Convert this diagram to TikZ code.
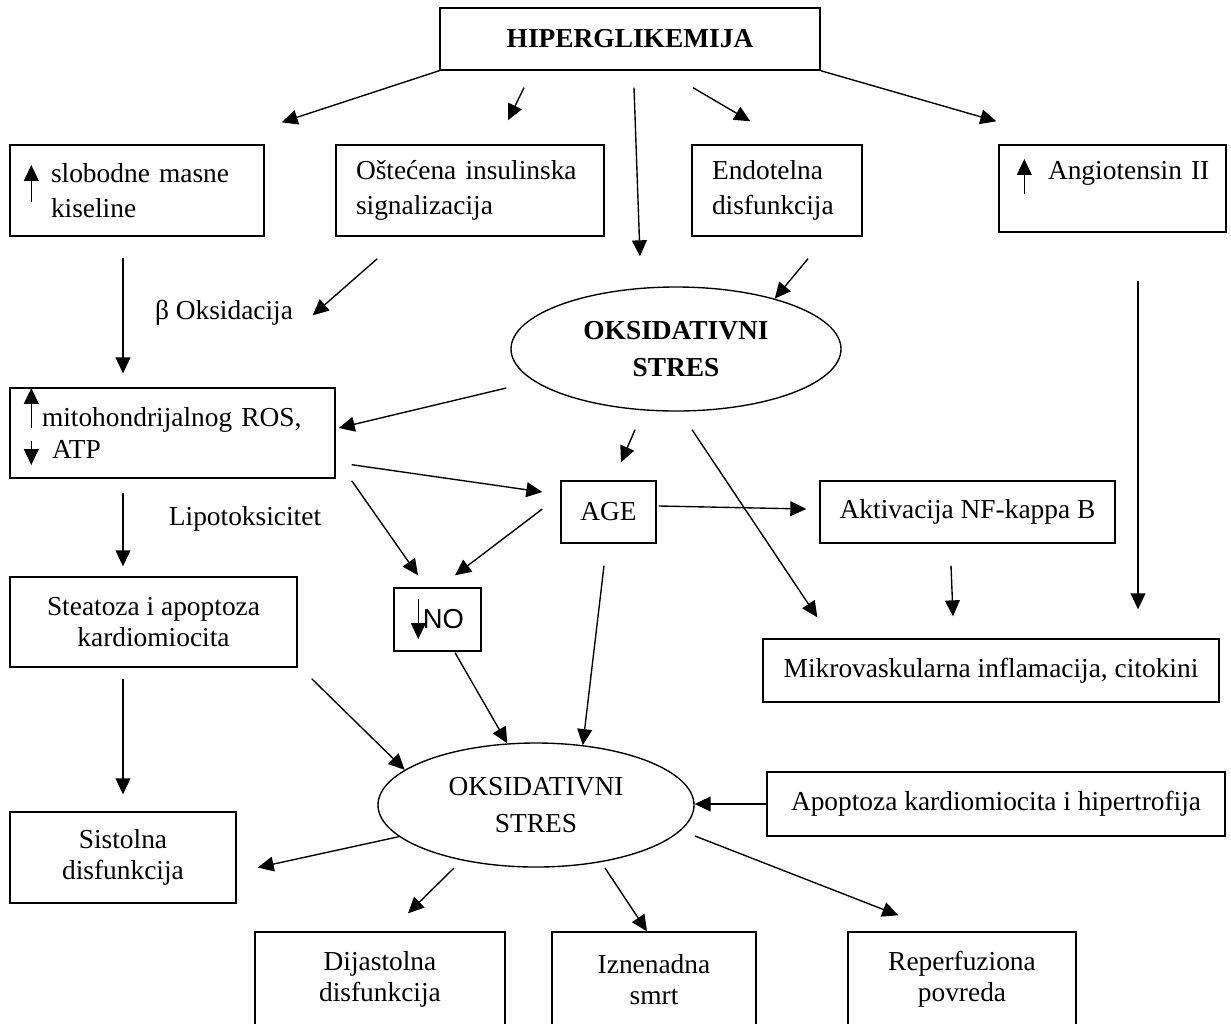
\documentclass[tikz,border=0pt]{standalone}
\usepackage{fontspec}
\setmainfont{Liberation Serif}
\newfontfamily\nofont{Liberation Sans}
\usetikzlibrary{arrows.meta,shapes.geometric}
\newlength{\pxu}
\setlength{\pxu}{0.0154cm}
\tikzset{
  >={Triangle[length=7pt,width=6.5pt]},
  arr/.style   = { draw, line width=0.6pt, -> },
  box/.style 2 args = {
    draw, rectangle, line width=0.6pt,
    minimum width=#1\pxu,
    minimum height=#2\pxu,
    inner sep=0pt,
    align=center},
  lbox/.style 2 args = { box={#1}{#2}, align=left },
  toprow/.style = { font=\fontsize{12}{15.5}\selectfont },
  oval/.style 2 args = {
    draw, ellipse, line width=0.6pt,
    minimum width=#1\pxu,
    minimum height=#2\pxu,
    inner sep=0pt, align=center,
    font=\fontsize{12}{16}\selectfont},
  note/.style  = { inner sep=0pt }
}

\begin{document}
\begin{tikzpicture}[x=0.0154cm, y=-0.0154cm,
  font=\fontsize{12}{13.8}\selectfont]
  \useasboundingbox (0,0) rectangle (1231,1023);
  \clip (0,0) rectangle (1231,1023);
  % top
  \node[box={380}{62}] (hiper) at (630,39) {\textbf{HIPERGLIKEMIJA}};
  \node[lbox={254}{91}, toprow, inner xsep=41\pxu, text width=172\pxu]
    (slob) at (137,190.5) {\mbox{slobodne masne}\\kiseline};
  \node[lbox={268}{91}, toprow, inner xsep=20\pxu, text width=228\pxu]
    (ostec) at (470,190.5) {\mbox{Oštećena insulinska}\\signalizacija};
  \node[lbox={170}{91}, toprow, inner xsep=20\pxu, text width=130\pxu]
    (endo) at (777,190.5) {Endotelna\\disfunkcija};
  \node[lbox={227}{87}, toprow, inner xsep=49\pxu, text width=129\pxu]
    (angio) at (1112.5,188.5) {\mbox{Angiotensin II}\\\mbox{}};
  \node[oval={330}{124}] (topell) at (676,349) {\textbf{OKSIDATIVNI}\\\textbf{STRES}};
  \node[note] (beta) at (224,313) {β Oksidacija};
  % middle
  \node[lbox={325}{90}, inner xsep=32\pxu, text width=261\pxu]
    (mito) at (172.5,433) {\mbox{mitohondrijalnog ROS,}\\\hspace*{4.4pt}ATP};
  \node[box={95}{62}] (age) at (608.5,512) {AGE};
  \node[box={295}{62}] (aktiv) at (967.5,512) {Aktivacija NF-kappa B};
  \node[note] (lipo) at (245,519) {Lipotoksicitet};
  \node[box={287}{90}] (steat) at (153.5,622) {Steatoza i apoptoza\\kardiomiocita};
  \node[box={87}{63}] (no) at (437.5,619.5) {\nofont\hspace{12\pxu}NO};
  \node[box={456}{63}] (mikro) at (991,670.5) {Mikrovaskularna inflamacija, citokini};
  % bottom
  \node[oval={316}{124}] (botell) at (536,805) {OKSIDATIVNI\\STRES};
  \node[box={458}{64}] (apopt) at (996,804) {Apoptoza kardiomiocita i hipertrofija};
  \node[box={226}{91}] (sist) at (123,857.5) {Sistolna\\disfunkcija};
  \node[box={250}{95}] (dijast) at (380,979.5) {Dijastolna\\disfunkcija};
  \node[box={204}{95}] (izn) at (654,979.5) {Iznenadna\\smrt};
  \node[box={228}{95}] (reperf) at (962,979.5) {Reperfuziona\\povreda};

  %% small arrows inside the boxes
  \draw[arr] ([shift={(22,11)}]slob.west) -- ([shift={(22,-25.5)}]slob.west);
  \draw[arr] ([shift={(26,5)}]angio.west) -- ([shift={(26,-29.5)}]angio.west);
  \draw[arr] ([shift={(22,-5)}]mito.west) -- ([shift={(22,-45)}]mito.west);
  \draw[arr] ([shift={(22,8)}]mito.west) -- ([shift={(22,32)}]mito.west);
  \draw[arr] ([shift={(25,-20.5)}]no.west) -- ([shift={(25,19.5)}]no.west);

  %% from hiperglikemija
  \draw[arr] (hiper.south west) -- ([shift={(17,-22)}]slob.north east);
  \draw[arr] ([shift={(-106,17)}]hiper.south) -- ([shift={(38,-24)}]ostec.north);
  \draw[arr] ([shift={(4,17)}]hiper.south) -- ([shift={(-36,-30)}]topell.north);
  \draw[arr] ([shift={(63,17)}]hiper.south) -- ([shift={(59,-23)}]endo.north west);
  \draw[arr] (hiper.south east) -- ([shift={(-2,-23)}]angio.north west);
  %% second row
  \draw[arr] ([shift={(-14,21)}]slob.south) -- ([shift={(-49.5,-14)}]mito.north);
  \draw[arr] ([shift={(42,22)}]ostec.south west) -- ([shift={(-23,-72)}]mito.north east);
  \draw[arr] ([shift={(31,22)}]endo.south) -- (topell.27);
  \draw[arr] ([shift={(25.5,48)}]angio.south) -- ([shift={(147,-29)}]mikro.north);
  %% around the first stres
  \draw[arr] ([shift={(-4,39)}]topell.west) -- ([shift={(3,-5)}]mito.east);
  \draw[arr] ([shift={(-41,18)}]topell.south) -- ([shift={(12.5,-18)}]age.north);
  \draw[arr] ([shift={(16,18)}]topell.south) -- ([shift={(55,-21)}]mikro.north west);
  \draw[arr] ([shift={(16,-14)}]mito.south east) -- ([shift={(-18,-20)}]age.west);
  \draw[arr] ([shift={(16,2)}]mito.south east) -- ([shift={(-19.5,-12)}]no.north);
  \draw[arr] ([shift={(-18,-3)}]age.west) -- ([shift={(17.5,-12)}]no.north);
  \draw[arr] ([shift={(2,-6)}]age.east) -- ([shift={(-13,-3)}]aktiv.west);
  \draw[arr] ([shift={(-49.5,14)}]mito.south) -- ([shift={(-30.5,-10)}]steat.north);
  \draw[arr] ([shift={(-16.5,22)}]aktiv.south) -- ([shift={(-38,-22)}]mikro.north);
  %% into the second stres
  \draw[arr] ([shift={(-4.5,22)}]age.south) -- (botell.52);
  \draw[arr] ([shift={(17.5,1)}]no.south) -- (botell.115);
  \draw[arr] ([shift={(14,11)}]steat.south east) -- (botell.165);
  \draw[arr] ([shift={(-30.5,11)}]steat.south) -- ([shift={(0,-17)}]sist.north);
  \draw[arr] (apopt.west) -- (apopt.west -| botell.east);
  %% outcomes
  \draw[arr] (botell.193) -- ([shift={(21,10)}]sist.east);
  \draw[arr] ([shift={(-82,63)}]botell.center) -- ([shift={(28,-18)}]dijast.north);
  \draw[arr] ([shift={(69,63)}]botell.center) -- ([shift={(-7,0)}]izn.north);
  \draw[arr] ([shift={(159,31)}]botell.center) -- ([shift={(51,-16)}]reperf.north west);
\end{tikzpicture}
\end{document}
